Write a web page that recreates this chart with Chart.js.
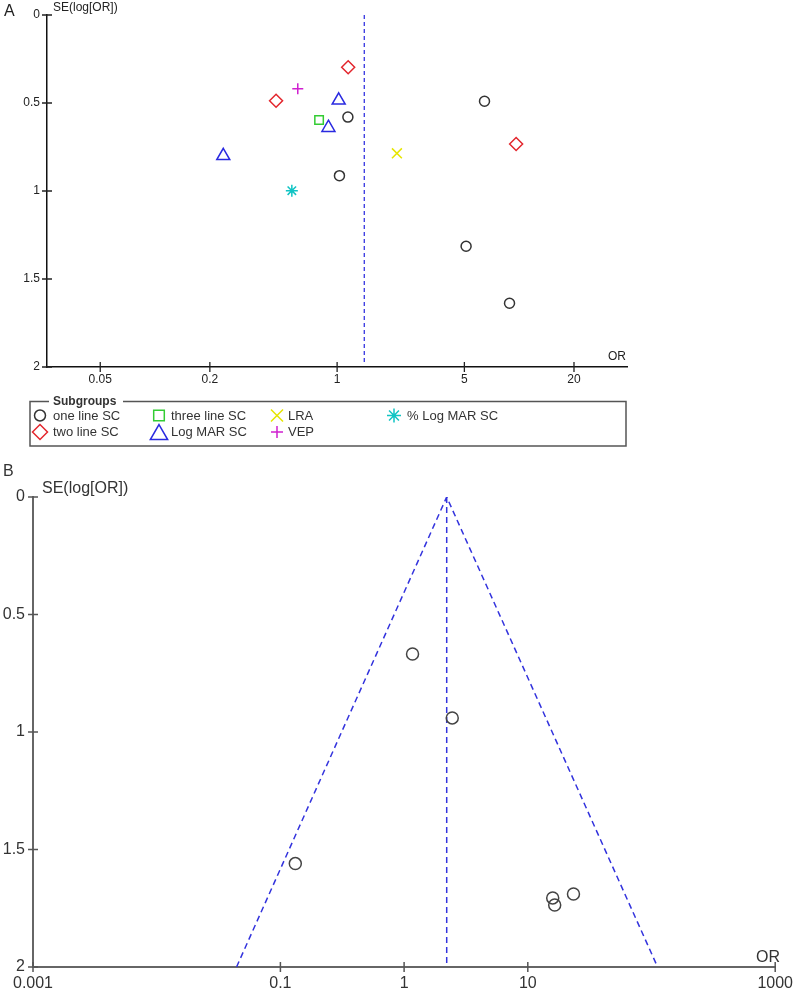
<!DOCTYPE html>
<html>
<head>
<meta charset="utf-8">
<script src="https://cdn.jsdelivr.net/npm/chart.js@4.4.1/dist/chart.umd.min.js"></script>
<style>
  html, body { margin: 0; padding: 0; background: #fff; }
  #wrapA { position: absolute; left: 0; top: 0; width: 800px; height: 460px; }
  #wrapB { position: absolute; left: 0; top: 460px; width: 800px; height: 537px; }
</style>
</head>
<body>
<div id="wrapA"><canvas id="chartA"></canvas></div>
<div id="wrapB"><canvas id="chartB"></canvas></div>
<script>
// ---- panel A : subgroups (OR, SE) ----
const subgroupNames = ['one line SC', 'two line SC', 'three line SC', 'Log MAR SC', 'LRA', 'VEP', '% Log MAR SC'];
const oneLineOR = [6.45, 1.146, 1.03, 5.11, 8.85];
const oneLineSE = [0.49, 0.58, 0.913, 1.314, 1.638];
const twoLineOR = [1.15, 0.462, 9.62];
const twoLineSE = [0.297, 0.487, 0.733];
const threeLineOR = [0.796];
const threeLineSE = [0.597];
const logMarOR = [1.02, 0.896, 0.237];
const logMarSE = [0.485, 0.64, 0.80];
const lraOR = [2.13];
const lraSE = [0.786];
const vepOR = [0.608];
const vepSE = [0.419];
const pctLogMarOR = [0.564];
const pctLogMarSE = [0.998];
const pooledOrA = [1.41, 1.41];
const pooledSeA = [0, 1.98];

const xTicksA = [0.05, 0.2, 1, 5, 20];
const xTickLabelsA = ['0.05', '0.2', '1', '5', '20'];
const yTicks = [0, 0.5, 1, 1.5, 2];
const yTickLabels = ['0', '0.5', '1', '1.5', '2'];

// ---- panel B : all studies with funnel ----
const studiesOrB = [1.17, 2.45, 0.132, 15.9, 16.5, 23.4];
const studiesSeB = [0.668, 0.94, 1.56, 1.706, 1.736, 1.689];
const funnelOrB = [0.0442, 2.21, 112];
const funnelSeB = [2, 0, 2];
const pooledOrB = [2.21, 2.21];
const pooledSeB = [0, 2];
const xTicksB = [0.001, 0.1, 1, 10, 1000];
const xTickLabelsB = ['0.001', '0.1', '1', '10', '1000'];

// styles
const subgroupColors = ['#333333', '#e3262d', '#33cc33', '#2a2ae0', '#e6e600', '#d020d0', '#10c4c4'];
const subgroupStyles = ['circle', 'rectRot', 'rect', 'triangle', 'crossRot', 'cross', 'star'];
const subgroupRadius = [5, 6.5, 6, 7.5, 7, 5.5, 6];
const legendRadius = [5.5, 7.5, 7.5, 10, 8.5, 6, 7];

Chart.defaults.font.family = '"Liberation Sans", Arial, sans-serif';
Chart.defaults.animation = false;

function pts(xs, ys) {
  return xs.map((x, i) => ({ x: x, y: ys[i] }));
}

function crossTicks(ctx, xs, ys, area, color, width, len) {
  ctx.save();
  ctx.strokeStyle = color;
  ctx.lineWidth = width;
  ctx.beginPath();
  xs.ticks.forEach(t => {
    const px = xs.getPixelForValue(t.value);
    ctx.moveTo(px, area.bottom - len);
    ctx.lineTo(px, area.bottom + len);
  });
  ys.ticks.forEach(t => {
    const py = ys.getPixelForValue(t.value);
    ctx.moveTo(area.left - len, py);
    ctx.lineTo(area.left + len, py);
  });
  ctx.stroke();
  ctx.restore();
}

function marker(ctx, i, r, x, y) {
  ctx.save();
  ctx.strokeStyle = subgroupColors[i];
  ctx.fillStyle = 'rgba(0,0,0,0)';
  ctx.lineWidth = 1.5;
  Chart.helpers.drawPoint(ctx, { pointStyle: subgroupStyles[i], radius: r, borderWidth: 1.5, rotation: 0 }, x, y);
  ctx.restore();
}

const decorA = {
  id: 'decorA',
  afterDraw(chart) {
    const ctx = chart.ctx, area = chart.chartArea;
    crossTicks(ctx, chart.scales.x, chart.scales.y, area, '#222', 1.3, 5);
    ctx.save();
    ctx.fillStyle = '#222';
    ctx.textBaseline = 'middle';
    ctx.font = '16px "Liberation Sans", Arial, sans-serif';
    ctx.fillText('A', 4, 12);
    ctx.font = '12px "Liberation Sans", Arial, sans-serif';
    ctx.fillText('SE(log[OR])', area.left + 6, 8);
    ctx.textAlign = 'center';
    ctx.fillText('OR', 617, 357);

    // legend box
    const bx = 30, by = 401.5, bw = 596, bh = 44.5;
    ctx.strokeStyle = '#555';
    ctx.lineWidth = 1.5;
    ctx.beginPath();
    ctx.moveTo(49, by);
    ctx.lineTo(bx, by);
    ctx.lineTo(bx, by + bh);
    ctx.lineTo(bx + bw, by + bh);
    ctx.lineTo(bx + bw, by);
    ctx.lineTo(123, by);
    ctx.stroke();
    ctx.textAlign = 'left';
    ctx.fillStyle = '#333';
    ctx.font = 'bold 12px "Liberation Sans", Arial, sans-serif';
    ctx.fillText('Subgroups', 53, by);

    const colMark = [40, 40, 159, 159, 277, 277, 394];
    const colText = [53, 53, 171, 171, 288, 288, 407];
    const rowY = [415.5, 432, 415.5, 432, 415.5, 432, 415.5];
    ctx.font = '13px "Liberation Sans", Arial, sans-serif';
    subgroupNames.forEach((name, i) => {
      const yOff = subgroupStyles[i] === 'triangle' ? legendRadius[i] / 4 : 0;
      marker(ctx, i, legendRadius[i], colMark[i], rowY[i] + yOff);
      ctx.fillStyle = '#333';
      ctx.fillText(name, colText[i], rowY[i] + 0.5);
    });
    ctx.restore();
  }
};

const decorB = {
  id: 'decorB',
  afterDraw(chart) {
    const ctx = chart.ctx, area = chart.chartArea;
    crossTicks(ctx, chart.scales.x, chart.scales.y, area, '#555', 1.5, 5);
    ctx.save();
    ctx.fillStyle = '#333';
    ctx.textBaseline = 'middle';
    ctx.font = '16px "Liberation Sans", Arial, sans-serif';
    ctx.fillText('B', 3, 12);
    ctx.fillText('SE(log[OR])', area.left + 9, 29);
    ctx.textAlign = 'center';
    ctx.fillText('OR', 768, 498);
    ctx.restore();
  }
};

const subgroupOR = [oneLineOR, twoLineOR, threeLineOR, logMarOR, lraOR, vepOR, pctLogMarOR];
const subgroupSE = [oneLineSE, twoLineSE, threeLineSE, logMarSE, lraSE, vepSE, pctLogMarSE];

const datasetsA = subgroupNames.map((name, i) => ({
  label: name,
  data: pts(subgroupOR[i], subgroupSE[i]),
  pointStyle: subgroupStyles[i],
  pointRadius: subgroupRadius[i],
  borderColor: subgroupColors[i],
  backgroundColor: 'rgba(0,0,0,0)',
  pointBorderWidth: 1.5,
  showLine: false
}));
datasetsA.push({
  label: 'pooled',
  data: pts(pooledOrA, pooledSeA),
  showLine: true,
  borderColor: '#3535e0',
  borderWidth: 1.3,
  borderDash: [4, 3],
  pointRadius: 0,
  fill: false
});

function axisX(min, max, ticks, labels, height, font, color, borderColor, borderWidth, pad) {
  return {
    type: 'logarithmic',
    position: 'bottom',
    min: min,
    max: max,
    afterBuildTicks: s => { s.ticks = ticks.map(v => ({ value: v })); },
    afterFit: s => { s.height = height; },
    grid: { display: true, drawOnChartArea: false, drawTicks: false },
    border: { display: true, color: borderColor, width: borderWidth },
    ticks: {
      autoSkip: false, maxRotation: 0, padding: pad, color: color, font: font,
      callback: (v, i) => labels[i]
    }
  };
}

function axisY(width, font, color, borderColor, borderWidth, pad) {
  return {
    type: 'linear',
    reverse: true,
    min: 0,
    max: 2,
    afterBuildTicks: s => { s.ticks = yTicks.map(v => ({ value: v })); },
    afterFit: s => { s.width = width; },
    grid: { display: true, drawOnChartArea: false, drawTicks: false },
    border: { display: true, color: borderColor, width: borderWidth },
    ticks: {
      padding: pad, color: color, font: font,
      callback: (v, i) => yTickLabels[i]
    }
  };
}

new Chart(document.getElementById('chartA').getContext('2d'), {
  type: 'scatter',
  data: { datasets: datasetsA },
  plugins: [decorA],
  options: {
    responsive: true,
    maintainAspectRatio: false,
    layout: { padding: { left: 0, right: 173, top: 15, bottom: 68 } },
    plugins: { legend: { display: false }, tooltip: { enabled: false } },
    scales: {
      x: axisX(0.0255, 39.1, xTicksA, xTickLabelsA, 25, { size: 12 }, '#222', '#111', 1.5, 5),
      y: axisY(47, { size: 12 }, '#222', '#111', 1.5, 7)
    }
  }
});

new Chart(document.getElementById('chartB').getContext('2d'), {
  type: 'scatter',
  data: {
    datasets: [
      {
        label: 'studies',
        data: pts(studiesOrB, studiesSeB),
        pointStyle: 'circle',
        pointRadius: 6,
        borderColor: '#444',
        backgroundColor: 'rgba(0,0,0,0)',
        pointBorderWidth: 1.5,
        showLine: false
      },
      {
        label: 'funnel',
        data: pts(funnelOrB, funnelSeB),
        showLine: true,
        borderColor: '#3333dd',
        borderWidth: 1.5,
        borderDash: [6, 4],
        pointRadius: 0,
        fill: false
      },
      {
        label: 'pooled',
        data: pts(pooledOrB, pooledSeB),
        showLine: true,
        borderColor: '#3333dd',
        borderWidth: 1.5,
        borderDash: [6, 4],
        pointRadius: 0,
        fill: false
      }
    ]
  },
  plugins: [decorB],
  options: {
    responsive: true,
    maintainAspectRatio: false,
    layout: { padding: { left: 0, right: 20, top: 37, bottom: 2 } },
    plugins: { legend: { display: false }, tooltip: { enabled: false } },
    scales: {
      x: axisX(0.001, 1000, xTicksB, xTickLabelsB, 28, { size: 16 }, '#333', '#666', 2, 7),
      y: axisY(33, { size: 16 }, '#333', '#666', 2, 8)
    }
  }
});
</script>
</body>
</html>
